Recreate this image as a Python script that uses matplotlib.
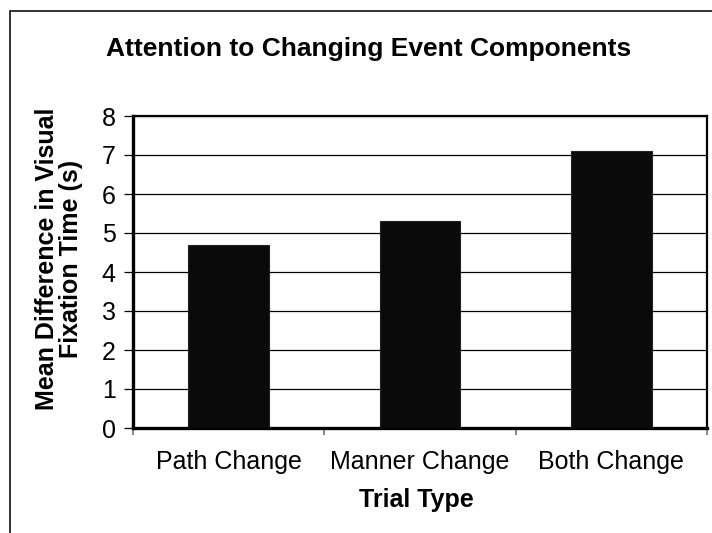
import matplotlib
matplotlib.use("Agg")
import matplotlib.pyplot as plt
from matplotlib.patches import Rectangle

trial_types = ["Path Change", "Manner Change", "Both Change"]
mean_diff = [4.7, 5.3, 7.1]
y_ticks = [0, 1, 2, 3, 4, 5, 6, 7, 8]

plt.rcParams['font.family'] = ['Liberation Sans', 'DejaVu Sans']

W, H = 712, 533
fig = plt.figure(figsize=(W / 100, H / 100), dpi=100)
ax = fig.add_axes([133 / W, 1 - 428 / H, (707 - 133) / W, (428 - 116) / H])

# outer chart frame (cropped at right / bottom)
fig.add_artist(Rectangle((10 / W, -0.1), 1.2, 1.1 - 11 / H, transform=fig.transFigure,
                         fill=False, edgecolor='#111111', linewidth=1.2))

x = range(len(trial_types))
ax.bar(x, mean_diff, width=0.42, color='#0a0a0a', edgecolor='#222222', linewidth=0.8, zorder=3)

ax.set_xlim(-0.5, len(trial_types) - 0.5)
ax.set_ylim(0, 8)
ax.set_yticks(y_ticks)
ax.yaxis.grid(True, color='black', linewidth=0.9)
ax.set_axisbelow(True)

ax.set_xticks(list(x))
ax.set_xticklabels(trial_types, fontsize=18)
ax.set_xticks([-0.5, 0.5, 1.5, 2.5], minor=True)
ax.tick_params(axis='x', which='major', length=0, pad=16)
ax.tick_params(axis='x', which='minor', length=5, width=1.2, color='#777777', direction='out')
ax.tick_params(axis='y', length=6.5, width=0.9, pad=6, labelsize=18, direction='out')

for side in ['left', 'bottom']:
    ax.spines[side].set_linewidth(2.4)
for side in ['top', 'right']:
    ax.spines[side].set_linewidth(1.6)

fig.text(369 / W, 1 - 56 / H, "Attention to Changing Event Components",
         fontsize=19, fontweight='bold', ha='center', va='baseline')
fig.text(416 / W, 1 - 507 / H, "Trial Type", fontsize=18, fontweight='bold',
         ha='center', va='baseline')
fig.text(59 / W, 1 - 259 / H, "Mean Difference in Visual\nFixation Time (s)",
         fontsize=18, fontweight='bold', rotation=90, ha='center', va='center',
         linespacing=1.0, multialignment='center')

fig.savefig("out.png", dpi=100)
